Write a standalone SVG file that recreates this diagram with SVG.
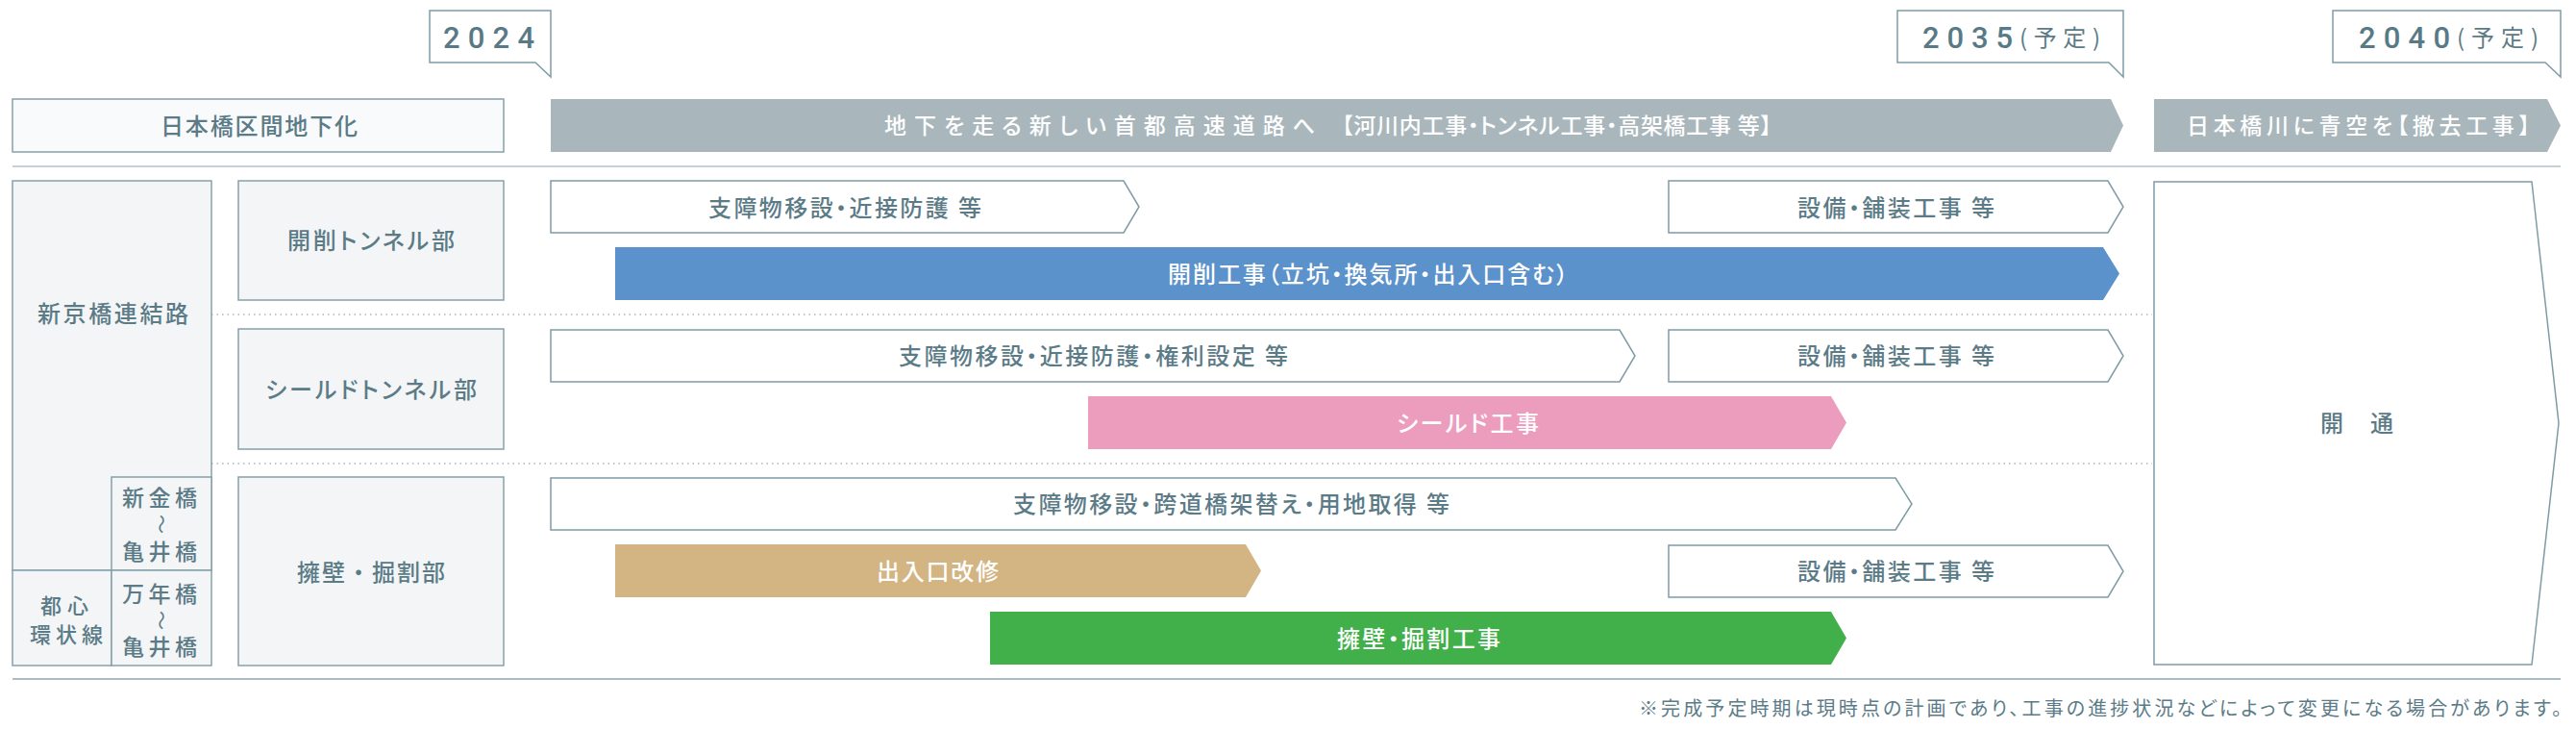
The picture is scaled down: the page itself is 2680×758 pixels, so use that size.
<svg xmlns="http://www.w3.org/2000/svg" width="2680" height="758" viewBox="0 0 2680 758">
<style>
  .jp{font-family:"Noto Sans CJK JP","Noto Sans",sans-serif;font-size:24px;font-weight:500;fill:#5b7b87;font-feature-settings:"palt";}
  .w{fill:#ffffff;}
  .s23{font-size:23px;}
  .s22{font-size:22px;}
  .s20{font-size:20px;}
  .num{font-family:Roboto,"Liberation Sans",sans-serif;font-size:31px;font-weight:500;fill:#587a86;}
  .callout{fill:#ffffff;stroke:#7f9ba6;stroke-width:1.5;}
  .gray{fill:#a9b7bd;}
  .outline{fill:#ffffff;stroke:#7f9ba6;stroke-width:1.5;}
  .label{fill:#f3f5f6;stroke:#86a0aa;stroke-width:1.5;}
  .labelLight{fill:#f8fafb;stroke:#86a0aa;stroke-width:1.5;}
  .dots{stroke:#bccad0;stroke-width:2;stroke-dasharray:1.5 4;fill:none;}
  .tilde{font-size:20px;font-weight:400;}
</style>

<g id="lines">
  <line x1="13" y1="173" x2="2664" y2="173" stroke="#c6d1d6" stroke-width="2"/>
  <line x1="220" y1="327" x2="2239" y2="327" class="dots"/>
  <line x1="220" y1="482" x2="2239" y2="482" class="dots"/>
  <line x1="13" y1="706" x2="2664" y2="706" stroke="#8fa6b0" stroke-width="1.5"/>
</g>

<g id="callout-2024">
  <path class="callout" d="M447,11 H573 V80 L557,65 H447 Z"/>
  <text class="num" x="461" y="50" textLength="95" lengthAdjust="spacing">2024</text>
</g>
<g id="callout-2035">
  <path class="callout" d="M1974,11 H2209 V80 L2194,65 H1974 Z"/>
  <text class="num" x="2000" y="50" textLength="94" lengthAdjust="spacing">2035</text>
  <text class="jp" x="2101" y="48" textLength="84" lengthAdjust="spacing" style="font-weight:400;font-size:24px">(予定)</text>
</g>
<g id="callout-2040">
  <path class="callout" d="M2427,11 H2664 V80 L2648,65 H2427 Z"/>
  <text class="num" x="2454" y="50" textLength="95" lengthAdjust="spacing">2040</text>
  <text class="jp" x="2556" y="48" textLength="85" lengthAdjust="spacing" style="font-weight:400;font-size:24px">(予定)</text>
</g>

<g id="node-nihonbashi">
  <rect class="labelLight" x="13" y="103" width="511" height="55"/>
  <text class="jp" x="167" y="140" textLength="205" lengthAdjust="spacing">日本橋区間地下化</text>
</g>
<g id="node-underground">
  <polygon class="gray" points="573,103 2196,103 2209,130.5 2196,158 573,158"/>
  <text class="jp s23 w" x="920" y="139" textLength="448" lengthAdjust="spacing">地下を走る新しい首都高速道路へ</text>
  <text class="jp s23 w" x="1396" y="139" textLength="447" lengthAdjust="spacing">【河川内工事・トンネル工事・高架橋工事 等】</text>
</g>
<g id="node-aozora">
  <polygon class="gray" points="2241,103 2650,103 2664,130.5 2650,158 2241,158"/>
  <text class="jp s23 w" x="2275" y="139" textLength="357" lengthAdjust="spacing">日本橋川に青空を【撤去工事】</text>
</g>

<g id="node-shinkyobashi">
  <rect class="label" x="13" y="188" width="207" height="405"/>
  <text class="jp" x="39" y="334.5" textLength="157" lengthAdjust="spacing">新京橋連結路</text>
</g>
<g id="node-shinkinbashi">
  <rect class="label" x="116" y="496" width="104" height="97"/>
  <text class="jp s23" x="127" y="526" textLength="78" lengthAdjust="spacing">新金橋</text>
  <text class="jp tilde" text-anchor="middle" transform="translate(167,545) rotate(90)" x="0" y="7">～</text>
  <text class="jp s23" x="127" y="582" textLength="78" lengthAdjust="spacing">亀井橋</text>
</g>
<g id="node-toshin">
  <rect class="label" x="13" y="593" width="103" height="99"/>
  <text class="jp s22" x="42" y="637.5" textLength="50" lengthAdjust="spacing">都心</text>
  <text class="jp s22" x="31" y="667.5" textLength="76" lengthAdjust="spacing">環状線</text>
</g>
<g id="node-mannenbashi">
  <rect class="label" x="116" y="593" width="104" height="99"/>
  <text class="jp s23" x="127" y="626" textLength="78" lengthAdjust="spacing">万年橋</text>
  <text class="jp tilde" text-anchor="middle" transform="translate(167,645) rotate(90)" x="0" y="7">～</text>
  <text class="jp s23" x="127" y="681" textLength="78" lengthAdjust="spacing">亀井橋</text>
</g>

<g id="node-kaisaku">
  <rect class="label" x="248" y="188" width="276" height="124"/>
  <text class="jp" x="299" y="259" textLength="174" lengthAdjust="spacing">開削トンネル部</text>
</g>
<g id="node-shield">
  <rect class="label" x="248" y="342" width="276" height="125"/>
  <text class="jp" x="276" y="413.5" textLength="220" lengthAdjust="spacing">シールドトンネル部</text>
</g>
<g id="node-yoheki">
  <rect class="label" x="248" y="496" width="276" height="196"/>
  <text class="jp" x="309" y="603.5" textLength="154" lengthAdjust="spacing" style="font-feature-settings:normal">擁壁・掘割部</text>
</g>

<g id="bar-row1-prep">
  <polygon class="outline" points="573,188 1169,188 1185,215 1169,242 573,242"/>
  <text class="jp" x="737" y="224.5" textLength="284" lengthAdjust="spacing">支障物移設・近接防護 等</text>
</g>
<g id="bar-row1-equip">
  <polygon class="outline" points="1736,188 2193,188 2209,215 2193,242 1736,242"/>
  <text class="jp" x="1870" y="224.5" textLength="205" lengthAdjust="spacing">設備・舗装工事 等</text>
</g>
<g id="bar-kaisaku">
  <polygon fill="#5b92cb" points="640,257 2188,257 2205,284.5 2188,312 640,312"/>
  <text class="jp w" x="1215" y="293.5" textLength="416" lengthAdjust="spacing">開削工事（立坑・換気所・出入口含む）</text>
</g>
<g id="bar-row2-prep">
  <polygon class="outline" points="573,343 1685,343 1701,370 1685,397 573,397"/>
  <text class="jp" x="935" y="379" textLength="405" lengthAdjust="spacing">支障物移設・近接防護・権利設定 等</text>
</g>
<g id="bar-row2-equip">
  <polygon class="outline" points="1736,343 2193,343 2209,370 2193,397 1736,397"/>
  <text class="jp" x="1870" y="379" textLength="205" lengthAdjust="spacing">設備・舗装工事 等</text>
</g>
<g id="bar-shield">
  <polygon fill="#ec9dbd" points="1132,412 1905,412 1921,439.5 1905,467 1132,467"/>
  <text class="jp w" x="1453" y="448.5" textLength="148" lengthAdjust="spacing">シールド工事</text>
</g>
<g id="bar-row3-prep">
  <polygon class="outline" points="573,497 1972,497 1989,524 1972,551 573,551"/>
  <text class="jp" x="1054" y="532.5" textLength="454" lengthAdjust="spacing">支障物移設・跨道橋架替え・用地取得 等</text>
</g>
<g id="bar-deiriguchi">
  <polygon fill="#d3b483" points="640,566 1296,566 1312,593.5 1296,621 640,621"/>
  <text class="jp w" x="912" y="602.5" textLength="127" lengthAdjust="spacing">出入口改修</text>
</g>
<g id="bar-row3-equip">
  <polygon class="outline" points="1736,567 2193,567 2209,594 2193,621 1736,621"/>
  <text class="jp" x="1870" y="603" textLength="205" lengthAdjust="spacing">設備・舗装工事 等</text>
</g>
<g id="bar-yoheki">
  <polygon fill="#42b04a" points="1030,636 1905,636 1921,663.5 1905,691 1030,691"/>
  <text class="jp w" x="1391" y="672.5" textLength="170" lengthAdjust="spacing">擁壁・掘割工事</text>
</g>

<g id="node-kaitsu">
  <polygon class="outline" points="2241,189 2634,189 2662,440 2634,691 2241,691"/>
  <text class="jp" x="2414" y="449" textLength="76" lengthAdjust="spacing" style="font-feature-settings:normal">開　通</text>
</g>

<g id="footnote">
  <text class="jp s20" x="1705" y="744" textLength="960" lengthAdjust="spacing" style="font-weight:400">※完成予定時期は現時点の計画であり、工事の進捗状況などによって変更になる場合があります。</text>
</g>
</svg>
